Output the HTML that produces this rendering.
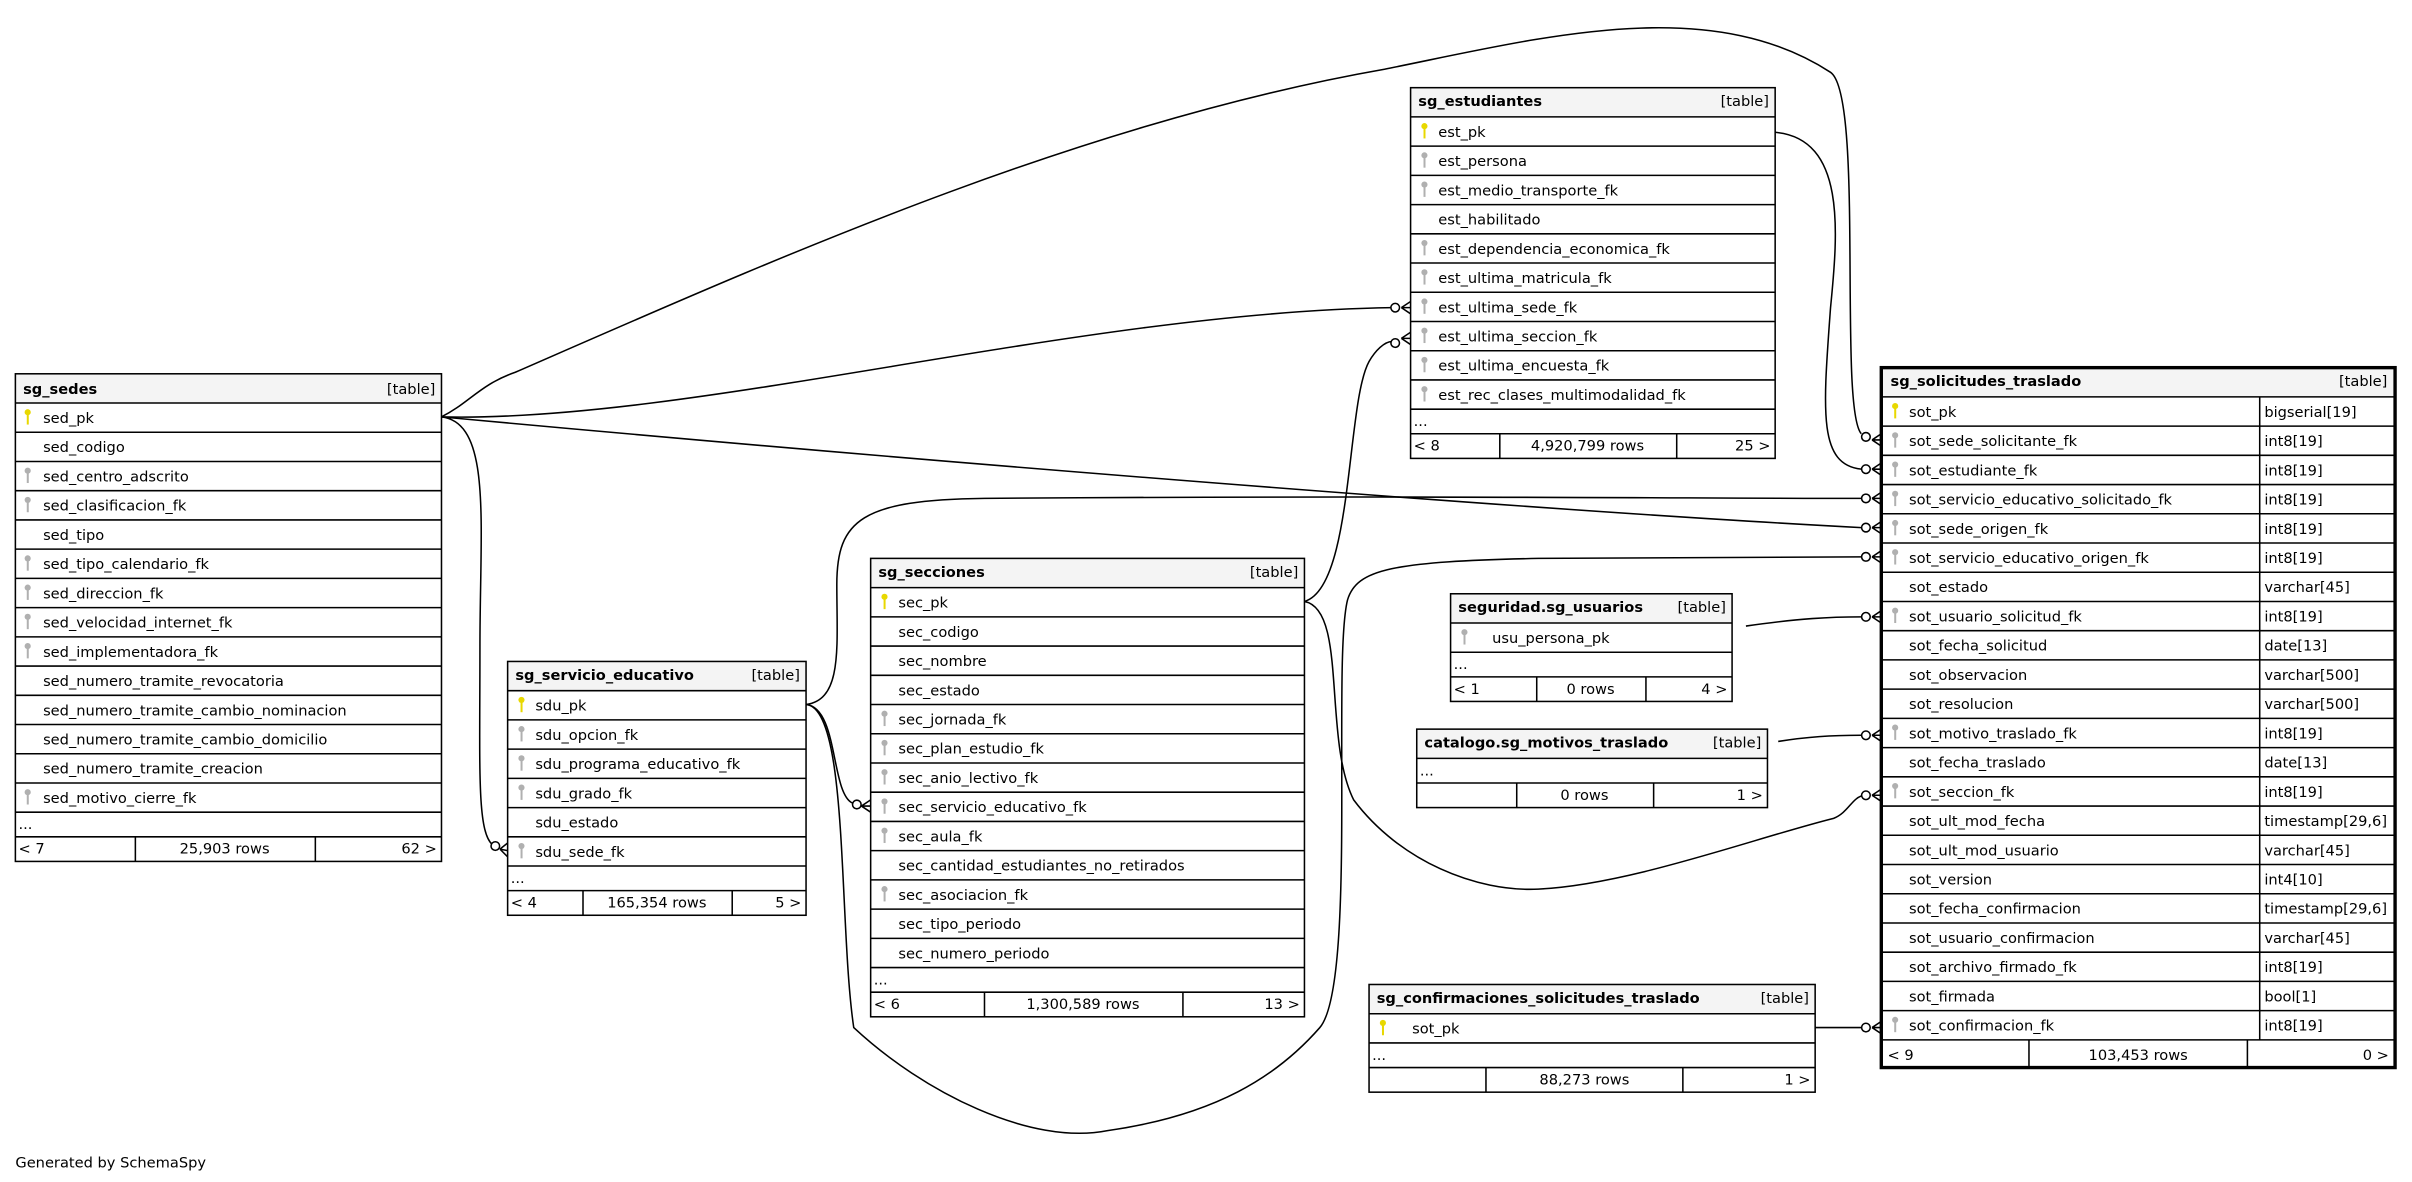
<!DOCTYPE html>
<html><head><meta charset="utf-8"><style>
html,body{margin:0;padding:0;background:#fff;}
svg{display:block;}
text{font-family:"DejaVu Sans","Liberation Sans",sans-serif;font-size:9.5px;fill:#000;}
.b{font-weight:bold;}
.hd{fill:#f4f4f4;stroke:none;}
.ln{stroke:#000;stroke-width:1;fill:none;}
.e{stroke:#000;stroke-width:1;fill:none;}
.ky{fill:#e8d800;}
.kg{fill:#b0b0b0;}
</style></head><body>
<svg width="2412" height="1182" viewBox="0 0 1568 768.4" xmlns="http://www.w3.org/2000/svg">
<rect x="0" y="0" width="1568" height="768.4" fill="#fff"/>

<!-- edges -->
<path class="e" d="M287,271 C450,275 700,203 905,200"/>
<path class="e" d="M287,271 C305,262 312,250 335,242 C500,170 700,80 900,45 C1000,25 1110,-5 1190,47 C1212,62 1195,265 1210,282"/>
<path class="e" d="M287,271 C600,300 1000,332 1210,343"/>
<path class="e" d="M287,271 C320,275 312,340 312,420 C312,500 310,540 320,549"/>
<path class="e" d="M524,458 C548,455 544,420 544,380 C544,338 560,325 640,324 C900,322 1100,324 1210,324"/>
<path class="e" d="M524,458 C545,460 540,515 554,522"/>
<path class="e" d="M524,458 C552,460 545,600 555,668 C600,710 670,745 720,735 C790,725 830,700 858,668 C882,640 866,430 876,390 C882,370 905,365 1000,363 L1210,362"/>
<path class="e" d="M848,391 C880,382 875,262 890,235 C894,228 900,222 905,222"/>
<path class="e" d="M848,391 C876,396 860,480 880,520 C910,560 960,580 1000,578 C1060,575 1140,545 1192,532 C1202,528 1204,518 1212,517"/>
<path class="e" d="M1154,86 C1200,90 1195,150 1190,200 C1185,268 1182,302 1210,305"/>
<path class="e" d="M1135,407 C1170,402 1190,401 1210,401"/>
<path class="e" d="M1156,482 C1175,479 1190,478 1210,478"/>
<path class="e" d="M1180,668 L1210,668"/>

<!-- crow's feet -->
<g class="e" fill="#fff">
<circle cx="907" cy="200" r="2.8" fill="#fff"/><path d="M911,200 L917,196 M911,200 L917,200 M911,200 L917,204"/>
<circle cx="907" cy="223" r="2.8" fill="#fff"/><path d="M911,220 L917,216 M911,220 L917,220 M911,220 L917,224"/>
<circle cx="322" cy="550" r="2.8" fill="#fff"/><path d="M325,552 L330,548 M325,552 L330,553 M325,552 L330,557"/>
<circle cx="557" cy="523" r="2.8" fill="#fff"/><path d="M560,524 L566,520 M560,524 L566,524 M560,524 L566,528"/>
<circle cx="1213" cy="284" r="2.8" fill="#fff"/><path d="M1217,286 L1223,282 M1217,286 L1223,286 M1217,286 L1223,290"/>
<circle cx="1213" cy="305" r="2.8" fill="#fff"/><path d="M1217,305 L1223,301 M1217,305 L1223,305 M1217,305 L1223,309"/>
<circle cx="1213" cy="324" r="2.8" fill="#fff"/><path d="M1217,324 L1223,320 M1217,324 L1223,324 M1217,324 L1223,328"/>
<circle cx="1213" cy="343" r="2.8" fill="#fff"/><path d="M1217,343 L1223,339 M1217,343 L1223,343 M1217,343 L1223,347"/>
<circle cx="1213" cy="362" r="2.8" fill="#fff"/><path d="M1217,362 L1223,358 M1217,362 L1223,362 M1217,362 L1223,366"/>
<circle cx="1213" cy="401" r="2.8" fill="#fff"/><path d="M1217,401 L1223,397 M1217,401 L1223,401 M1217,401 L1223,405"/>
<circle cx="1213" cy="478" r="2.8" fill="#fff"/><path d="M1217,478 L1223,474 M1217,478 L1223,478 M1217,478 L1223,482"/>
<circle cx="1213" cy="517" r="2.8" fill="#fff"/><path d="M1217,517 L1223,513 M1217,517 L1223,517 M1217,517 L1223,521"/>
<circle cx="1213" cy="668" r="2.8" fill="#fff"/><path d="M1217,668 L1223,664 M1217,668 L1223,668 M1217,668 L1223,672"/>
</g>

<!-- sg_sedes -->
<g>
<rect class="hd" x="10" y="243" width="277" height="19"/>
<rect class="ln" x="10" y="243" width="277" height="317"/>
<path class="ln" d="M10,262H287M10,281H287M10,300H287M10,319H287M10,338H287M10,357H287M10,376H287M10,395H287M10,414H287M10,433H287M10,452H287M10,471H287M10,490H287M10,509H287M10,528H287M10,544H287M88,544V560M205,544V560"/>
<text class="b" x="15" y="256">sg_sedes</text><text x="283" y="256" text-anchor="end">[table]</text>
<text x="28" y="275">sed_pk</text>
<text x="28" y="294">sed_codigo</text>
<text x="28" y="313">sed_centro_adscrito</text>
<text x="28" y="332">sed_clasificacion_fk</text>
<text x="28" y="351">sed_tipo</text>
<text x="28" y="370">sed_tipo_calendario_fk</text>
<text x="28" y="389">sed_direccion_fk</text>
<text x="28" y="408">sed_velocidad_internet_fk</text>
<text x="28" y="427">sed_implementadora_fk</text>
<text x="28" y="446">sed_numero_tramite_revocatoria</text>
<text x="28" y="465">sed_numero_tramite_cambio_nominacion</text>
<text x="28" y="484">sed_numero_tramite_cambio_domicilio</text>
<text x="28" y="503">sed_numero_tramite_creacion</text>
<text x="28" y="522">sed_motivo_cierre_fk</text>
<text x="12" y="539">...</text>
<text x="12" y="555">&lt; 7</text><text x="146" y="555" text-anchor="middle">25,903 rows</text><text x="284" y="555" text-anchor="end">62 &gt;</text>
</g>

<!-- sg_servicio_educativo -->
<g>
<rect class="hd" x="330" y="430" width="194" height="19"/>
<rect class="ln" x="330" y="430" width="194" height="165"/>
<path class="ln" d="M330,449H524M330,468H524M330,487H524M330,506H524M330,525H524M330,544H524M330,563H524M330,579H524M379,579V595M476,579V595"/>
<text class="b" x="335" y="442">sg_servicio_educativo</text><text x="520" y="442" text-anchor="end">[table]</text>
<text x="348" y="462">sdu_pk</text>
<text x="348" y="481">sdu_opcion_fk</text>
<text x="348" y="500">sdu_programa_educativo_fk</text>
<text x="348" y="519">sdu_grado_fk</text>
<text x="348" y="538">sdu_estado</text>
<text x="348" y="557">sdu_sede_fk</text>
<text x="332" y="574">...</text>
<text x="332" y="590">&lt; 4</text><text x="427" y="590" text-anchor="middle">165,354 rows</text><text x="521" y="590" text-anchor="end">5 &gt;</text>
</g>

<!-- sg_secciones -->
<g>
<rect class="hd" x="566" y="363" width="282" height="19"/>
<rect class="ln" x="566" y="363" width="282" height="298"/>
<path class="ln" d="M566,382H848M566,401H848M566,420H848M566,439H848M566,458H848M566,477H848M566,496H848M566,515H848M566,534H848M566,553H848M566,572H848M566,591H848M566,610H848M566,629H848M566,645H848M640,645V661M769,645V661"/>
<text class="b" x="571" y="375">sg_secciones</text><text x="844" y="375" text-anchor="end">[table]</text>
<text x="584" y="395">sec_pk</text>
<text x="584" y="414">sec_codigo</text>
<text x="584" y="433">sec_nombre</text>
<text x="584" y="452">sec_estado</text>
<text x="584" y="471">sec_jornada_fk</text>
<text x="584" y="490">sec_plan_estudio_fk</text>
<text x="584" y="509">sec_anio_lectivo_fk</text>
<text x="584" y="528">sec_servicio_educativo_fk</text>
<text x="584" y="547">sec_aula_fk</text>
<text x="584" y="566">sec_cantidad_estudiantes_no_retirados</text>
<text x="584" y="585">sec_asociacion_fk</text>
<text x="584" y="604">sec_tipo_periodo</text>
<text x="584" y="623">sec_numero_periodo</text>
<text x="568" y="640">...</text>
<text x="568" y="656">&lt; 6</text><text x="704" y="656" text-anchor="middle">1,300,589 rows</text><text x="845" y="656" text-anchor="end">13 &gt;</text>
</g>

<!-- sg_estudiantes -->
<g>
<rect class="hd" x="917" y="57" width="237" height="19"/>
<rect class="ln" x="917" y="57" width="237" height="241"/>
<path class="ln" d="M917,76H1154M917,95H1154M917,114H1154M917,133H1154M917,152H1154M917,171H1154M917,190H1154M917,209H1154M917,228H1154M917,247H1154M917,266H1154M917,282H1154M975,282V298M1090,282V298"/>
<text class="b" x="922" y="69">sg_estudiantes</text><text x="1150" y="69" text-anchor="end">[table]</text>
<text x="935" y="89">est_pk</text>
<text x="935" y="108">est_persona</text>
<text x="935" y="127">est_medio_transporte_fk</text>
<text x="935" y="146">est_habilitado</text>
<text x="935" y="165">est_dependencia_economica_fk</text>
<text x="935" y="184">est_ultima_matricula_fk</text>
<text x="935" y="203">est_ultima_sede_fk</text>
<text x="935" y="222">est_ultima_seccion_fk</text>
<text x="935" y="241">est_ultima_encuesta_fk</text>
<text x="935" y="260">est_rec_clases_multimodalidad_fk</text>
<text x="919" y="277">...</text>
<text x="919" y="293">&lt; 8</text><text x="1032" y="293" text-anchor="middle">4,920,799 rows</text><text x="1151" y="293" text-anchor="end">25 &gt;</text>
</g>

<!-- sg_solicitudes_traslado -->
<g>
<rect class="hd" x="1223" y="239" width="334" height="19"/>
<rect x="1223" y="239" width="334" height="455" fill="none" stroke="#000" stroke-width="2.2"/>
<path class="ln" d="M1223,258H1557M1223,277H1557M1223,296H1557M1223,315H1557M1223,334H1557M1223,353H1557M1223,372H1557M1223,391H1557M1223,410H1557M1223,429H1557M1223,448H1557M1223,467H1557M1223,486H1557M1223,505H1557M1223,524H1557M1223,543H1557M1223,562H1557M1223,581H1557M1223,600H1557M1223,619H1557M1223,638H1557M1223,657H1557M1223,676H1557M1469,258V676M1319,676V694M1461,676V694"/>
<text class="b" x="1229" y="251">sg_solicitudes_traslado</text><text x="1552" y="251" text-anchor="end">[table]</text>
<g>
<text x="1241" y="271">sot_pk</text><text x="1472" y="271">bigserial[19]</text>
<text x="1241" y="290">sot_sede_solicitante_fk</text><text x="1472" y="290">int8[19]</text>
<text x="1241" y="309">sot_estudiante_fk</text><text x="1472" y="309">int8[19]</text>
<text x="1241" y="328">sot_servicio_educativo_solicitado_fk</text><text x="1472" y="328">int8[19]</text>
<text x="1241" y="347">sot_sede_origen_fk</text><text x="1472" y="347">int8[19]</text>
<text x="1241" y="366">sot_servicio_educativo_origen_fk</text><text x="1472" y="366">int8[19]</text>
<text x="1241" y="385">sot_estado</text><text x="1472" y="385">varchar[45]</text>
<text x="1241" y="404">sot_usuario_solicitud_fk</text><text x="1472" y="404">int8[19]</text>
<text x="1241" y="423">sot_fecha_solicitud</text><text x="1472" y="423">date[13]</text>
<text x="1241" y="442">sot_observacion</text><text x="1472" y="442">varchar[500]</text>
<text x="1241" y="461">sot_resolucion</text><text x="1472" y="461">varchar[500]</text>
<text x="1241" y="480">sot_motivo_traslado_fk</text><text x="1472" y="480">int8[19]</text>
<text x="1241" y="499">sot_fecha_traslado</text><text x="1472" y="499">date[13]</text>
<text x="1241" y="518">sot_seccion_fk</text><text x="1472" y="518">int8[19]</text>
<text x="1241" y="537">sot_ult_mod_fecha</text><text x="1472" y="537">timestamp[29,6]</text>
<text x="1241" y="556">sot_ult_mod_usuario</text><text x="1472" y="556">varchar[45]</text>
<text x="1241" y="575">sot_version</text><text x="1472" y="575">int4[10]</text>
<text x="1241" y="594">sot_fecha_confirmacion</text><text x="1472" y="594">timestamp[29,6]</text>
<text x="1241" y="613">sot_usuario_confirmacion</text><text x="1472" y="613">varchar[45]</text>
<text x="1241" y="632">sot_archivo_firmado_fk</text><text x="1472" y="632">int8[19]</text>
<text x="1241" y="651">sot_firmada</text><text x="1472" y="651">bool[1]</text>
<text x="1241" y="670">sot_confirmacion_fk</text><text x="1472" y="670">int8[19]</text>
</g>
<text x="1227" y="689">&lt; 9</text><text x="1390" y="689" text-anchor="middle">103,453 rows</text><text x="1553" y="689" text-anchor="end">0 &gt;</text>
</g>

<!-- seguridad.sg_usuarios -->
<g>
<rect class="hd" x="943" y="386" width="183" height="19"/>
<rect class="ln" x="943" y="386" width="183" height="70"/>
<path class="ln" d="M943,405H1126M943,424H1126M943,440H1126M999,440V456M1070,440V456"/>
<text class="b" x="948" y="398">seguridad.sg_usuarios</text><text x="1122" y="398" text-anchor="end">[table]</text>
<text x="970" y="418">usu_persona_pk</text>
<text x="945" y="435">...</text>
<text x="945" y="451">&lt; 1</text><text x="1034" y="451" text-anchor="middle">0 rows</text><text x="1123" y="451" text-anchor="end">4 &gt;</text>
</g>

<!-- catalogo.sg_motivos_traslado -->
<g>
<rect class="hd" x="921" y="474" width="228" height="19"/>
<rect class="ln" x="921" y="474" width="228" height="51"/>
<path class="ln" d="M921,493H1149M921,509H1149M986,509V525M1075,509V525"/>
<text class="b" x="926" y="486">catalogo.sg_motivos_traslado</text><text x="1145" y="486" text-anchor="end">[table]</text>
<text x="923" y="504">...</text>
<text x="1030" y="520" text-anchor="middle">0 rows</text><text x="1146" y="520" text-anchor="end">1 &gt;</text>
</g>

<!-- sg_confirmaciones_solicitudes_traslado -->
<g>
<rect class="hd" x="890" y="640" width="290" height="19"/>
<rect class="ln" x="890" y="640" width="290" height="70"/>
<path class="ln" d="M890,659H1180M890,678H1180M890,694H1180M966,694V710M1094,694V710"/>
<text class="b" x="895" y="652">sg_confirmaciones_solicitudes_traslado</text><text x="1176" y="652" text-anchor="end">[table]</text>
<text x="918" y="672">sot_pk</text>
<text x="892" y="689">...</text>
<text x="1030" y="705" text-anchor="middle">88,273 rows</text><text x="1177" y="705" text-anchor="end">1 &gt;</text>
</g>

<!-- key icons -->
<g class="ky">
<circle cx="18" cy="268" r="2"/><rect x="17.4" y="269" width="1.3" height="7"/>
<circle cx="339" cy="455" r="2"/><rect x="338.4" y="456" width="1.3" height="7"/>
<circle cx="575" cy="388" r="2"/><rect x="574.4" y="389" width="1.3" height="7"/>
<circle cx="926" cy="82" r="2"/><rect x="925.4" y="83" width="1.3" height="7"/>
<circle cx="1232" cy="264" r="2"/><rect x="1231.4" y="265" width="1.3" height="7"/>
<circle cx="899" cy="665" r="2"/><rect x="898.4" y="666" width="1.3" height="7"/>
</g>
<g class="kg">
<circle cx="18" cy="306" r="2"/><rect x="17.4" y="307" width="1.3" height="7"/>
<circle cx="18" cy="325" r="2"/><rect x="17.4" y="326" width="1.3" height="7"/>
<circle cx="18" cy="363" r="2"/><rect x="17.4" y="364" width="1.3" height="7"/>
<circle cx="18" cy="382" r="2"/><rect x="17.4" y="383" width="1.3" height="7"/>
<circle cx="18" cy="401" r="2"/><rect x="17.4" y="402" width="1.3" height="7"/>
<circle cx="18" cy="420" r="2"/><rect x="17.4" y="421" width="1.3" height="7"/>
<circle cx="18" cy="515" r="2"/><rect x="17.4" y="516" width="1.3" height="7"/>
<circle cx="339" cy="474" r="2"/><rect x="338.4" y="475" width="1.3" height="7"/>
<circle cx="339" cy="493" r="2"/><rect x="338.4" y="494" width="1.3" height="7"/>
<circle cx="339" cy="512" r="2"/><rect x="338.4" y="513" width="1.3" height="7"/>
<circle cx="339" cy="550" r="2"/><rect x="338.4" y="551" width="1.3" height="7"/>
<circle cx="575" cy="464" r="2"/><rect x="574.4" y="465" width="1.3" height="7"/>
<circle cx="575" cy="483" r="2"/><rect x="574.4" y="484" width="1.3" height="7"/>
<circle cx="575" cy="502" r="2"/><rect x="574.4" y="503" width="1.3" height="7"/>
<circle cx="575" cy="521" r="2"/><rect x="574.4" y="522" width="1.3" height="7"/>
<circle cx="575" cy="540" r="2"/><rect x="574.4" y="541" width="1.3" height="7"/>
<circle cx="575" cy="578" r="2"/><rect x="574.4" y="579" width="1.3" height="7"/>
<circle cx="926" cy="101" r="2"/><rect x="925.4" y="102" width="1.3" height="7"/>
<circle cx="926" cy="120" r="2"/><rect x="925.4" y="121" width="1.3" height="7"/>
<circle cx="926" cy="158" r="2"/><rect x="925.4" y="159" width="1.3" height="7"/>
<circle cx="926" cy="177" r="2"/><rect x="925.4" y="178" width="1.3" height="7"/>
<circle cx="926" cy="196" r="2"/><rect x="925.4" y="197" width="1.3" height="7"/>
<circle cx="926" cy="215" r="2"/><rect x="925.4" y="216" width="1.3" height="7"/>
<circle cx="926" cy="234" r="2"/><rect x="925.4" y="235" width="1.3" height="7"/>
<circle cx="926" cy="253" r="2"/><rect x="925.4" y="254" width="1.3" height="7"/>
<circle cx="1232" cy="283" r="2"/><rect x="1231.4" y="284" width="1.3" height="7"/>
<circle cx="1232" cy="302" r="2"/><rect x="1231.4" y="303" width="1.3" height="7"/>
<circle cx="1232" cy="321" r="2"/><rect x="1231.4" y="322" width="1.3" height="7"/>
<circle cx="1232" cy="340" r="2"/><rect x="1231.4" y="341" width="1.3" height="7"/>
<circle cx="1232" cy="359" r="2"/><rect x="1231.4" y="360" width="1.3" height="7"/>
<circle cx="1232" cy="397" r="2"/><rect x="1231.4" y="398" width="1.3" height="7"/>
<circle cx="1232" cy="473" r="2"/><rect x="1231.4" y="474" width="1.3" height="7"/>
<circle cx="1232" cy="511" r="2"/><rect x="1231.4" y="512" width="1.3" height="7"/>
<circle cx="1232" cy="663" r="2"/><rect x="1231.4" y="664" width="1.3" height="7"/>
<circle cx="952" cy="411" r="2"/><rect x="951.4" y="412" width="1.3" height="7"/>
</g>

<text x="10" y="759">Generated by SchemaSpy</text>
</svg>
</body></html>
